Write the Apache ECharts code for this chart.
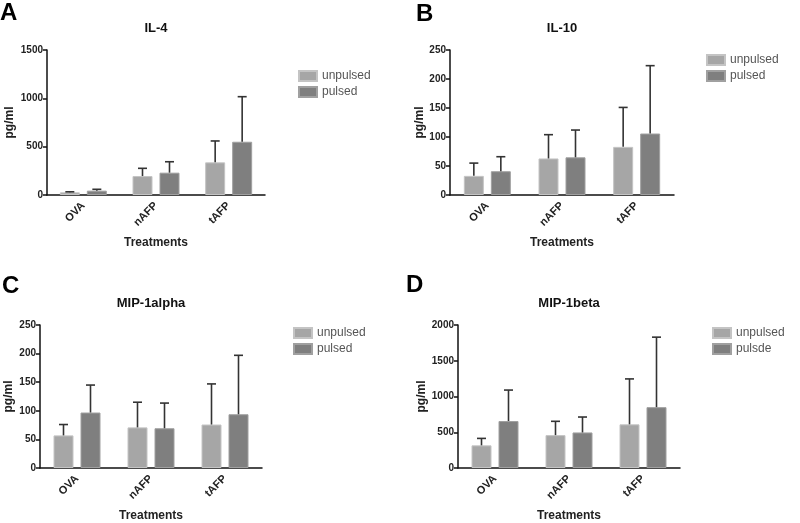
<!DOCTYPE html>
<html>
<head>
<meta charset="utf-8">
<script src="https://cdn.jsdelivr.net/npm/echarts@6/dist/echarts.min.js"></script>
<style>
  html, body { margin: 0; padding: 0; background: #fff; }
  #main { width: 800px; height: 523px; }
</style>
</head>
<body>
<div id="main"></div>
<script>
var categories = ['OVA', 'nAFP', 'tAFP'];

// IL-4
var il4Unpulsed = [28, 196, 338];
var il4UnpulsedErr = [5, 80, 221];
var il4Pulsed = [45, 231, 551];
var il4PulsedErr = [14, 113, 466];

// IL-10
var il10Unpulsed = [33, 63, 83];
var il10UnpulsedErr = [22, 41, 68];
var il10Pulsed = [41, 65, 106];
var il10PulsedErr = [25, 47, 117];

// MIP-1alpha
var mip1aUnpulsed = [57, 71, 76];
var mip1aUnpulsedErr = [19, 44, 71];
var mip1aPulsed = [97, 69.5, 94];
var mip1aPulsedErr = [48, 44, 103];

// MIP-1beta
var mip1bUnpulsed = [317, 460, 611];
var mip1bUnpulsedErr = [97, 193, 635];
var mip1bPulsed = [657, 497, 851];
var mip1bPulsedErr = [433, 216, 979];

var lightGray = '#a6a6a6';
var darkGray = '#7f7f7f';
var font = 'Liberation Sans';

var chart = echarts.init(document.getElementById('main'));

// 误差线（只画上半部分）
function errRender(offset) {
    return function (params, api) {
        var x = api.coord([api.value(0), 0])[0] + offset;
        var y0 = api.coord([api.value(0), api.value(1)])[1];
        var y1 = api.coord([api.value(0), api.value(2)])[1];
        var st = { stroke: '#333', lineWidth: 1.6 };
        return {
            type: 'group',
            children: [
                { type: 'line', shape: { x1: x, y1: y0, x2: x, y2: y1 }, style: st },
                { type: 'line', shape: { x1: x - 4.5, y1: y1, x2: x + 4.5, y2: y1 }, style: st }
            ]
        };
    };
}

function errData(vals, errs) {
    var d = [];
    for (var i = 0; i < vals.length; i++) {
        d.push([i, vals[i], vals[i] + errs[i]]);
    }
    return d;
}

var panels = [
    { letter: 'A', title: 'IL-4', grid: { left: 47, top: 50, width: 218, height: 145 }, max: 1500, interval: 500, nameGap: 31,
      letterPos: [0, 1], legendPos: [298, 70], names: ['unpulsed', 'pulsed'],
      u: il4Unpulsed, ue: il4UnpulsedErr, p: il4Pulsed, pe: il4PulsedErr },
    { letter: 'B', title: 'IL-10', grid: { left: 450, top: 50, width: 224, height: 145 }, max: 250, interval: 50, nameGap: 21,
      letterPos: [416, 2], legendPos: [706, 54], names: ['unpulsed', 'pulsed'],
      u: il10Unpulsed, ue: il10UnpulsedErr, p: il10Pulsed, pe: il10PulsedErr },
    { letter: 'C', title: 'MIP-1alpha', grid: { left: 40, top: 325, width: 222, height: 145 }, max: 250, interval: 50, nameGap: 25,
      letterPos: [2, 274], legendPos: [293, 327], names: ['unpulsed', 'pulsed'],
      u: mip1aUnpulsed, ue: mip1aUnpulsedErr, p: mip1aPulsed, pe: mip1aPulsedErr },
    { letter: 'D', title: 'MIP-1beta', grid: { left: 458, top: 325, width: 222, height: 145 }, max: 2000, interval: 500, nameGap: 29,
      letterPos: [406, 273], legendPos: [712, 327], names: ['unpulsed', 'pulsde'],
      u: mip1bUnpulsed, ue: mip1bUnpulsedErr, p: mip1bPulsed, pe: mip1bPulsedErr }
];

var titles = [], grids = [], xAxes = [], yAxes = [], legends = [], series = [];

for (var k = 0; k < panels.length; k++) {
    var pn = panels[k];
    grids.push(pn.grid);
    titles.push({
        text: pn.letter, left: pn.letterPos[0], top: pn.letterPos[1], padding: 0,
        textStyle: { fontFamily: font, fontSize: 24, fontWeight: 'bold', color: '#000' }
    });
    titles.push({
        text: pn.title, left: pn.grid.left + pn.grid.width / 2, textAlign: 'center',
        top: pn.grid.top - 28, padding: 0,
        textStyle: { fontFamily: font, fontSize: 13, fontWeight: 'bold', color: '#111' }
    });
    xAxes.push({
        type: 'category', gridIndex: k, data: categories,
        name: 'Treatments', nameLocation: 'middle', nameGap: 42,
        nameTextStyle: { fontFamily: font, fontSize: 12, fontWeight: 'bold', color: '#222' },
        axisLine: { lineStyle: { color: '#111', width: 1.5 } },
        axisTick: { alignWithLabel: true, length: 4, lineStyle: { color: '#111', width: 1.5 } },
        axisLabel: { rotate: 45, margin: 9, fontFamily: font, fontSize: 11, fontWeight: 'bold', color: '#222' }
    });
    yAxes.push({
        type: 'value', gridIndex: k, min: 0, max: pn.max, interval: pn.interval,
        name: 'pg/ml', nameLocation: 'middle', nameGap: pn.nameGap,
        nameTextStyle: { fontFamily: font, fontSize: 12, fontWeight: 'bold', color: '#222' },
        axisLine: { show: true, lineStyle: { color: '#111', width: 1.5 } },
        axisTick: { show: true, length: 4, lineStyle: { color: '#111', width: 1.5 } },
        axisLabel: {
            margin: 4, fontFamily: font, fontSize: 10, fontWeight: 'bold', color: '#222',
            formatter: function (v) { return String(v); }
        },
        splitLine: { show: false }
    });
    legends.push({
        data: pn.names, orient: 'vertical', left: pn.legendPos[0], top: pn.legendPos[1],
        itemWidth: 18, itemHeight: 10, itemGap: 4, padding: 0,
        icon: 'rect',
        textStyle: { fontFamily: font, fontSize: 12, color: '#555' }
    });
    series.push({
        name: pn.names[0], type: 'bar', xAxisIndex: k, yAxisIndex: k,
        data: pn.u, barWidth: 20, barGap: '35%',
        itemStyle: { color: lightGray, borderColor: '#c4c4c4', borderWidth: 1 }
    });
    series.push({
        name: pn.names[1], type: 'bar', xAxisIndex: k, yAxisIndex: k,
        data: pn.p, barWidth: 20, barGap: '35%',
        itemStyle: { color: darkGray, borderColor: '#a0a0a0', borderWidth: 1 }
    });
    series.push({
        type: 'custom', xAxisIndex: k, yAxisIndex: k, z: 3,
        renderItem: errRender(-13.5), data: errData(pn.u, pn.ue), silent: true
    });
    series.push({
        type: 'custom', xAxisIndex: k, yAxisIndex: k, z: 3,
        renderItem: errRender(13.5), data: errData(pn.p, pn.pe), silent: true
    });
}

chart.setOption({
    animation: false,
    title: titles,
    grid: grids,
    xAxis: xAxes,
    yAxis: yAxes,
    legend: legends,
    series: series
});
</script>
</body>
</html>
